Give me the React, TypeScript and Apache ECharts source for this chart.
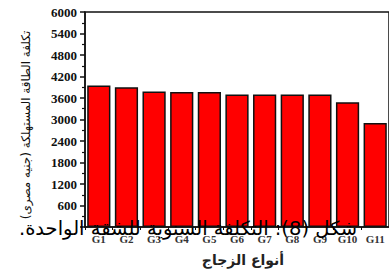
import React, { useEffect, useRef } from "react";
import * as echarts from "echarts";

const categories = ["G1", "G2", "G3", "G4", "G5", "G6", "G7", "G8", "G9", "G10", "G11"];
const costs = [3950, 3900, 3780, 3770, 3770, 3700, 3700, 3700, 3700, 3480, 2900];
const yTitle = "تكلفة الطاقة المستهلكة (جنيه مصرى)";
const xTitle = "أنواع الزجاج";
const caption = "شكل (8): التكلفة السنوية للشقة الواحدة.\u200F";

export default function App() {
  const ref = useRef<HTMLDivElement>(null);
  useEffect(() => {
    if (!ref.current) return;
    const chart = echarts.init(ref.current, null, { renderer: "svg" });
    chart.setOption({
      animation: false,
      backgroundColor: "#ffffff",
      grid: {
        left: 85,
        top: 12,
        width: 308,
        height: 215,
        show: true,
        borderColor: "#111",
        borderWidth: 1.5,
        backgroundColor: "transparent",
      },
      xAxis: {
        type: "category",
        data: categories,
        axisLine: { lineStyle: { color: "#111", width: 1.5 } },
        axisTick: { show: true, length: 3, lineStyle: { color: "#111" } },
        axisLabel: {
          color: "#333",
          fontFamily: "Liberation Serif",
          fontWeight: "bold",
          fontSize: 11,
          margin: 6,
        },
      },
      yAxis: {
        type: "value",
        min: 0,
        max: 6000,
        interval: 600,
        splitLine: { show: false },
        axisLine: { show: true, lineStyle: { color: "#111", width: 1.5 } },
        axisTick: { show: true, length: 5, lineStyle: { color: "#111", width: 1.5 } },
        minorTick: { show: true, splitNumber: 2, length: 3, lineStyle: { color: "#111", width: 1.2 } },
        axisLabel: {
          showMinLabel: false,
          formatter: (v: number) => String(v),
          color: "#111",
          fontFamily: "Liberation Serif",
          fontWeight: "bold",
          fontSize: 13,
          margin: 8,
        },
      },
      series: [
        {
          type: "bar",
          data: costs,
          barCategoryGap: "16%",
          itemStyle: { color: "#ff0000", borderColor: "#111", borderWidth: 1.5 },
        },
      ],
      graphic: [
        {
          type: "text",
          x: 26,
          y: 125,
          rotation: Math.PI / 2,
          style: {
            text: yTitle,
            fontFamily: "DejaVu Sans",
            fontSize: 12,
            fill: "#111",
            textAlign: "center",
            textVerticalAlign: "middle",
          },
        },
        {
          type: "text",
          x: 243,
          y: 260,
          style: {
            text: xTitle,
            fontFamily: "DejaVu Sans",
            fontSize: 14,
            fontWeight: "bold",
            fill: "#222",
            textAlign: "center",
            textVerticalAlign: "middle",
          },
        },
        {
          type: "text",
          x: 188,
          y: 228,
          z: 100,
          style: {
            text: caption,
            fontFamily: "DejaVu Sans",
            fontSize: 19.5,
            fill: "#000",
            textAlign: "center",
            textVerticalAlign: "middle",
          },
        },
      ],
    });
    return () => chart.dispose();
  }, []);
  return <div ref={ref} style={{ width: 389, height: 274, position: "absolute", left: 0, top: 0 }} />;
}
